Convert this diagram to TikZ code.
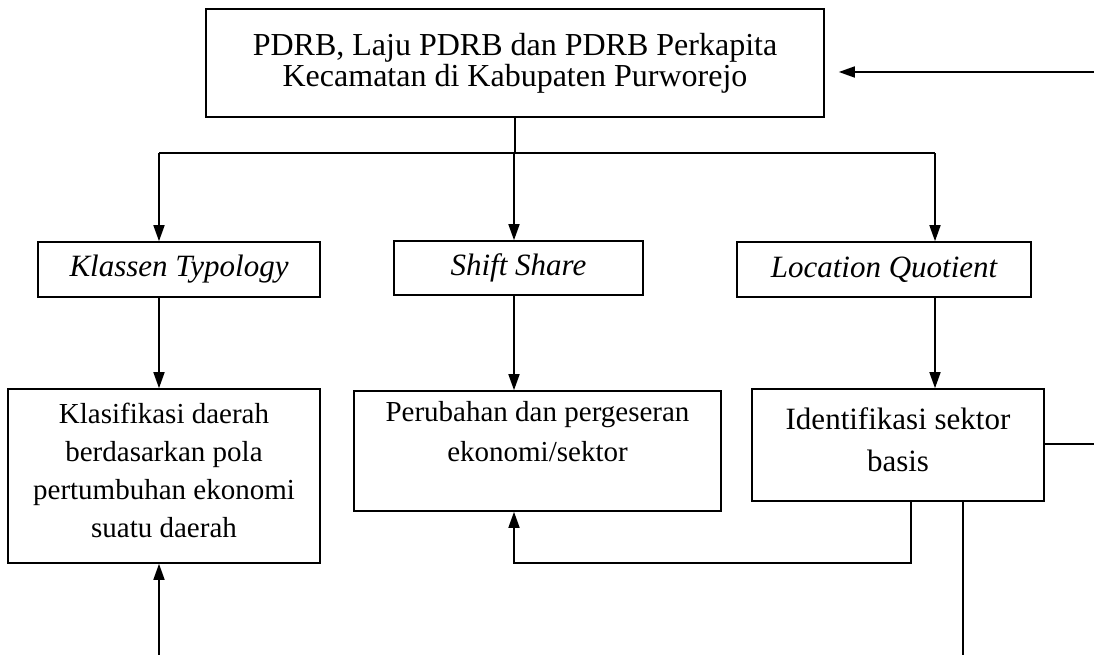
\documentclass[tikz,border=0pt]{standalone}
\usepackage{fontspec}
\setmainfont{Liberation Serif}
\usetikzlibrary{arrows.meta}
\begin{document}
\begin{tikzpicture}[x=1pt,y=-1pt,
  box/.style={draw, line width=1.6pt, align=center, inner sep=0pt},
  conn/.style={line width=1.6pt},
  arr/.style={conn, -{Triangle[length=16pt,width=11pt]}}]
\useasboundingbox (0,0) rectangle (1094,655);

\node[box, minimum width=618pt, minimum height=108pt, font=\fontsize{32}{31}\selectfont] (top) at (515,63)
  {PDRB, Laju PDRB dan PDRB Perkapita\\Kecamatan di Kabupaten Purworejo};

\node[box, minimum width=282pt, minimum height=55pt, font=\fontsize{31}{31}\selectfont\itshape] (kt) at (179,269.5) {Klassen Typology};
\node[box, minimum width=249pt, minimum height=54pt, font=\fontsize{31}{31}\selectfont\itshape] (ss) at (518.5,268) {Shift Share};
\node[box, minimum width=294pt, minimum height=55pt, font=\fontsize{31}{31}\selectfont\itshape] (lq) at (884,269.5) {Location Quotient};

\node[box, minimum width=312pt, minimum height=174pt, font=\fontsize{29}{38}\selectfont] (klas) at (164,476)
  {Klasifikasi daerah\\berdasarkan pola\\pertumbuhan ekonomi\\suatu daerah\\[-26pt]\mbox{}};
\node[box, minimum width=367pt, minimum height=120pt, font=\fontsize{29}{40}\selectfont] (perub) at (537.5,451)
  {Perubahan dan pergeseran\\ekonomi/sektor\\\mbox{}};
\node[box, minimum width=292pt, minimum height=112pt, font=\fontsize{31}{42}\selectfont] (ident) at (898,445)
  {Identifikasi sektor\\basis\\[-32pt]\mbox{}};

% helper coordinates
\coordinate (br) at (0,153);
\coordinate (xa) at (159,0);
\coordinate (xb) at (514,0);
\coordinate (xc) at (935,0);
\coordinate (xd) at (911,0);
\coordinate (xe) at (963,0);
\coordinate (yl) at (0,563);
\coordinate (ra) at (1094,72);
\coordinate (rb) at (1094,444);
\coordinate (bl) at (159,655);
\coordinate (be) at (963,655);

% top to branches
\draw[conn] (top.south) -- (top.south |- br);
\draw[conn] (xa |- br) -- (xc |- br);
\draw[arr] (xa |- br) -- (xa |- kt.north);
\draw[arr] (xb |- br) -- (xb |- ss.north);
\draw[arr] (xc |- br) -- (xc |- lq.north);

% middle to bottom
\draw[arr] (xa |- kt.south) -- (xa |- klas.north);
\draw[arr] (xb |- ss.south) -- (xb |- perub.north);
\draw[arr] (xc |- lq.south) -- (xc |- ident.north);

% feedback
\draw[arr] (xd |- ident.south) -- (xd |- yl) -- (xb |- yl) -- (xb |- perub.south);
\draw[conn] (xe |- ident.south) -- (be);
\draw[arr] (bl) -- (xa |- klas.south);
\draw[conn] (ident.east |- rb) -- (rb);
\draw[arr, shorten >=14pt] (ra) -- (top.east |- ra);
\end{tikzpicture}
\end{document}
